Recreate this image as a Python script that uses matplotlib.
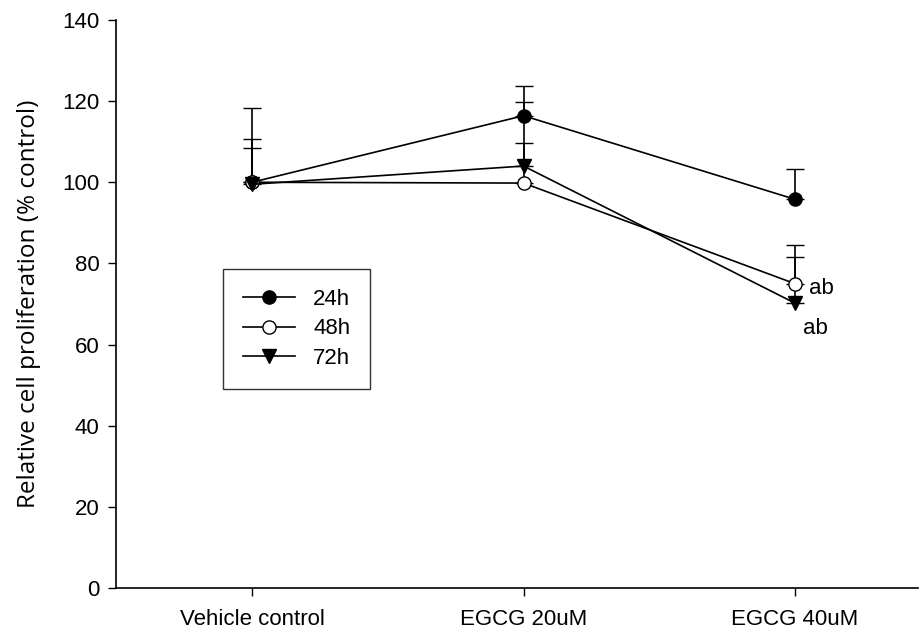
import matplotlib
matplotlib.use("Agg")
import matplotlib.pyplot as plt
import numpy as np

# treatment groups on the x axis
groups = ["Vehicle control", "EGCG 20uM", "EGCG 40uM"]

# mean proliferation (% control) per time point
prolif_24h = [100.0, 116.4, 95.8]
prolif_48h = [100.0, 99.8, 75.0]
prolif_72h = [99.5, 104.0, 70.2]

# upper error bars (SD)
err_24h = [18.4, 7.4, 7.5]
err_48h = [10.6, 9.8, 6.5]
err_72h = [8.9, 15.9, 14.3]

# significance letters: (group index, value, text)
sig_labels = [(2, 75.0, "ab"), (2, 70.2, "ab")]

plt.rcParams["font.family"] = ["Liberation Sans", "DejaVu Sans"]

fig = plt.figure(figsize=(9.21, 6.36), dpi=100)
ax = fig.add_axes([0.126, 0.0755, 0.8707, 0.8931])

x = np.arange(len(groups))
series = [
    ("24h", prolif_24h, err_24h, dict(marker="o", mfc="black")),
    ("48h", prolif_48h, err_48h, dict(marker="o", mfc="white")),
    ("72h", prolif_72h, err_72h, dict(marker="v", mfc="black")),
]

handles = []
for label, vals, err, style in series:
    yerr = [np.zeros(len(err)), err]
    cont = ax.errorbar(x, vals, yerr=yerr, color="black", lw=1.2, ms=9.5,
                       mec="black", mew=1.0, elinewidth=1.2, capsize=6.4,
                       capthick=1.2, label=label, **style)
    handles.append(cont.lines[0])

# "ab" letters next to the 40uM points
ax.text(x[sig_labels[0][0]] + 0.05, sig_labels[0][1] - 1.2, sig_labels[0][2],
        fontsize=16, ha="left", va="center")
ax.text(x[sig_labels[1][0]] + 0.03, sig_labels[1][1] - 6.2, sig_labels[1][2],
        fontsize=16, ha="left", va="center")

ax.set_xlim(-0.501, 2.453)
ax.set_ylim(0, 140)
ax.set_yticks(np.arange(0, 141, 20))
ax.set_xticks(x)
ax.set_xticklabels(groups)

for side in ["top", "right"]:
    ax.spines[side].set_visible(False)
for side in ["left", "bottom"]:
    ax.spines[side].set_linewidth(1.2)

ax.tick_params(axis="y", direction="out", length=6, width=1.0, pad=6,
               labelsize=16)
ax.tick_params(axis="x", direction="out", length=6, width=1.0, pad=9,
               labelsize=16)

ax.set_ylabel("Relative cell proliferation (% control)", fontsize=17.5,
              family=["Open Sans", "DejaVu Sans"], labelpad=15)

leg = ax.legend(handles, [s[0] for s in series], loc="upper left",
                bbox_to_anchor=(0.1334, 0.5616),
                borderaxespad=0, fancybox=False, frameon=True,
                edgecolor="black", fontsize=16, handlelength=2.35,
                handletextpad=0.8, borderpad=0.9, labelspacing=0.38)
leg.get_frame().set_linewidth(1.0)

fig.savefig("out.png", dpi=100)
